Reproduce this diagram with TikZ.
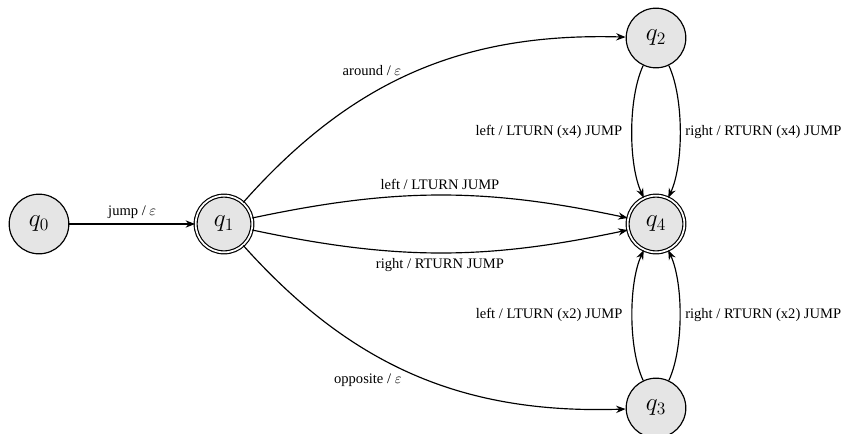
\documentclass[tikz,border=0pt]{standalone}
\usepackage[no-math]{fontspec}
\setmainfont{Liberation Serif}
\usetikzlibrary{arrows.meta}

\begin{document}
\begin{tikzpicture}[x=0.6875pt,y=-0.6875pt,>={Stealth[length=6.5pt,width=5pt]},thick]
%===STYLES===
\tikzset{state/.style={draw,circle,fill=black!10,minimum size=41pt,inner sep=0pt,font=\LARGE},
 accepting/.style={state,minimum size=39pt,double,double distance=1.2pt}}
\useasboundingbox (0,0) rectangle (849,434);
%===states===
\node[state] (q0) at (39,224) {$q_0$};
\node[accepting] (q1) at (224,224) {$q_1$};
\node[state] (q2) at (656,38) {$q_2$};
\node[accepting] (q4) at (656,224) {$q_4$};
\node[state] (q3) at (656,408) {$q_3$};
%===from q0, q1===
\draw[->] (q0) -- (q1) node[midway,above] {jump / $\varepsilon$};
\draw[->] (q1) to[bend left=25] node[midway,above left,xshift=-5pt,yshift=-6pt] {around / $\varepsilon$} (q2);
\draw[->] (q1) to[bend left=12] node[midway,above] {left / LTURN JUMP} (q4);
\draw[->] (q1) to[bend right=12] node[midway,below] {right / RTURN JUMP} (q4);
\draw[->] (q1) to[bend right=25] node[midway,below left,xshift=-5pt,yshift=4pt] {opposite / $\varepsilon$} (q3);
%===into q4===
\draw[->] (q2) to[out=-115,in=115,looseness=0.7] node[midway,left,xshift=-3pt] {left / LTURN (x4) JUMP} (q4);
\draw[->] (q2) to[out=-65,in=65,looseness=0.7] node[midway,right] {right / RTURN (x4) JUMP} (q4);
\draw[->] (q3) to[out=115,in=-115,looseness=0.7] node[midway,left,xshift=-3pt] {left / LTURN (x2) JUMP} (q4);
\draw[->] (q3) to[out=65,in=-65,looseness=0.7] node[midway,right] {right / RTURN (x2) JUMP} (q4);
\end{tikzpicture}
\end{document}
